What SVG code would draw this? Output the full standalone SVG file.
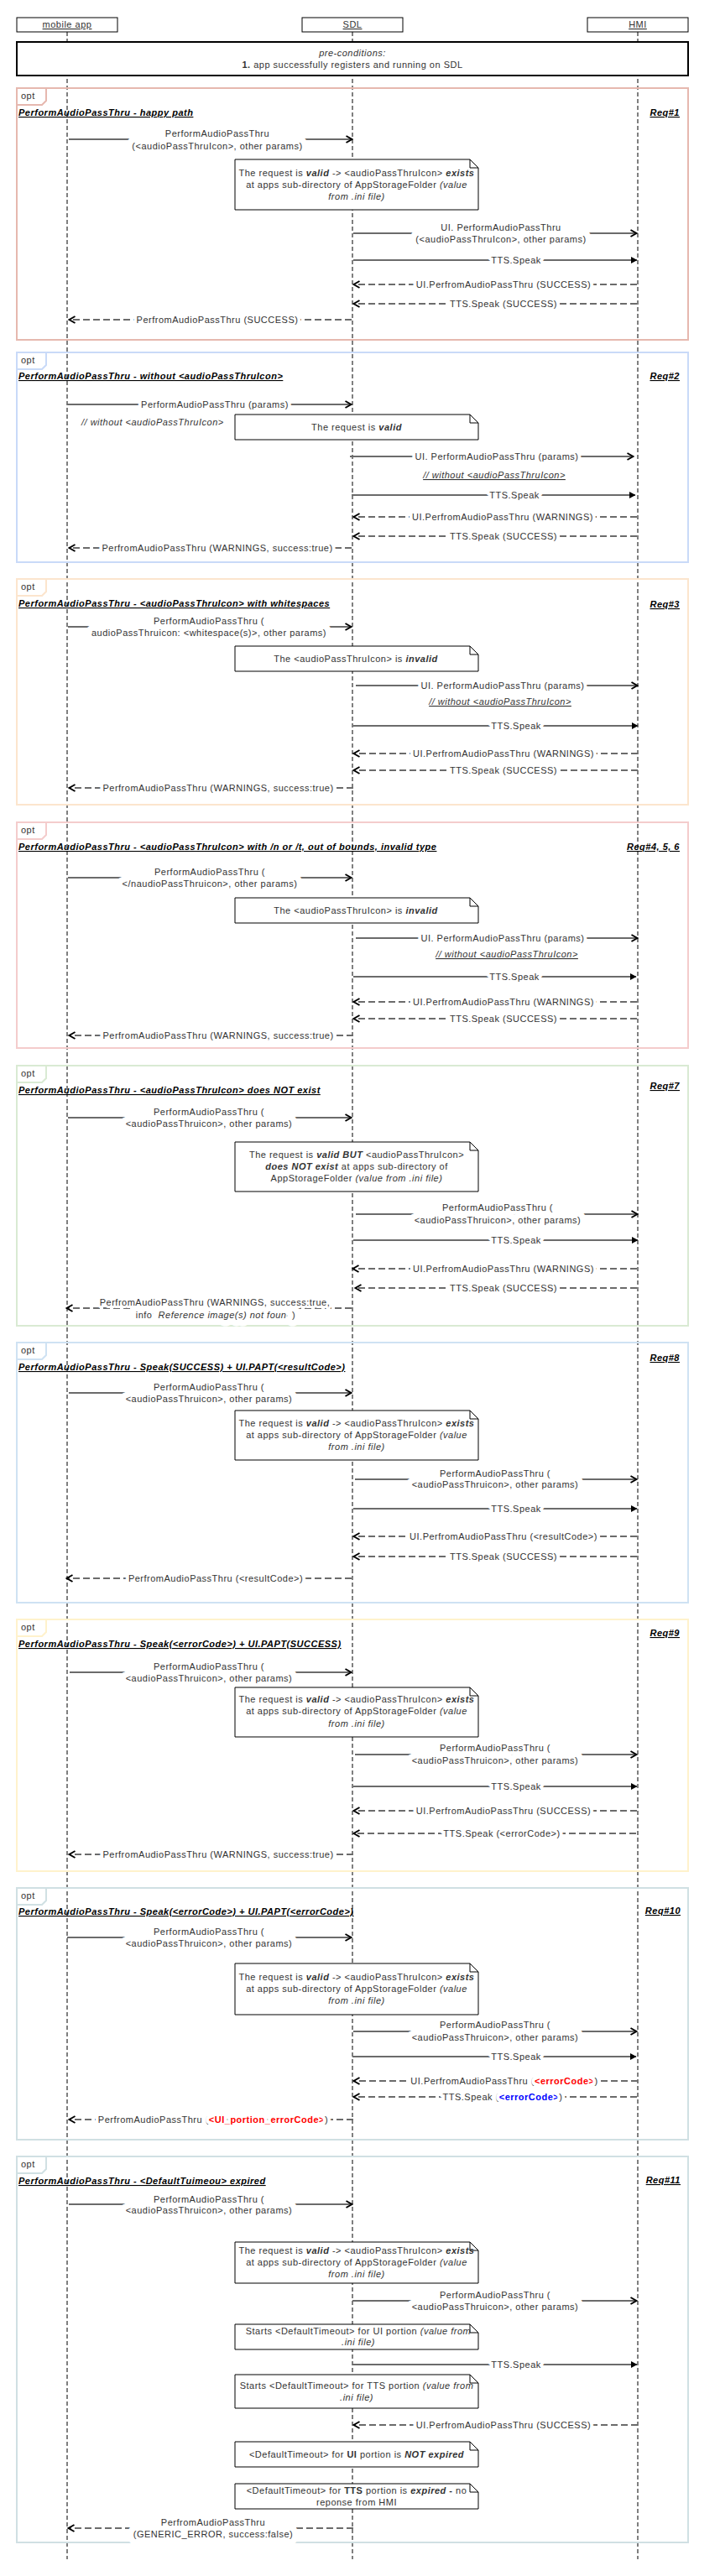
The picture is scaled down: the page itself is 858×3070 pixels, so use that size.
<svg xmlns="http://www.w3.org/2000/svg" width="858" height="3070" viewBox="0 0 858 3070">
<style>
.lf{stroke:#000;stroke-width:1;stroke-dasharray:5 3;fill:none}
.pbox{fill:#fff;stroke:#000;stroke-width:1}
.t{font-family:"Liberation Sans",Arial,sans-serif;font-size:11px;fill:#333;letter-spacing:0.5px}
.c{text-anchor:middle}
.e{text-anchor:end}
.h{stroke:#fff;stroke-width:8;stroke-linejoin:round;paint-order:stroke}
.h2{stroke-width:15}
.h3{stroke-width:6}
.sync{stroke:#6b6b6b;stroke-width:2;fill:none}
.ret{stroke:#6b6b6b;stroke-width:2;stroke-dasharray:8 4;fill:none}
.frame{fill:none;stroke-width:2}
.tab{fill:#fff;stroke-width:2}
.note{fill:#fff;stroke:#000;stroke-width:1}
.fold{fill:none;stroke:#000;stroke-width:1}
.ttl{font-weight:bold;font-style:italic;text-decoration:underline;fill:#000}
.u{text-decoration:underline}
.b{font-weight:bold}
.i{font-style:italic}
.bi{font-weight:bold;font-style:italic}
.red{fill:#ff0000;font-weight:bold}
.blue{fill:#0000ff;font-weight:bold}
</style>
<defs>
<marker id="open" viewBox="0 0 10 10" refX="9" refY="5" markerWidth="10" markerHeight="10" markerUnits="userSpaceOnUse" orient="auto"><path d="M1.5,1 L8.5,5 L1.5,9" fill="none" stroke="#000" stroke-width="2"/></marker>
<marker id="fill" viewBox="0 0 10 10" refX="9" refY="5" markerWidth="10" markerHeight="10" markerUnits="userSpaceOnUse" orient="auto"><path d="M2,1 L9.5,5 L2,9 Z" fill="#000"/></marker>
</defs>
<rect width="858" height="3070" fill="#fff"/>

<g id="lifelines">
<line class="lf" x1="80" y1="38" x2="80" y2="3050"/>
<line class="lf" x1="420" y1="38" x2="420" y2="3050"/>
<line class="lf" x1="760" y1="38" x2="760" y2="3050"/>
</g>

<g id="p-mobile"><rect class="pbox" x="20" y="21" width="120" height="17"/><text class="t c u" x="80" y="33">mobile app</text></g>
<g id="p-sdl"><rect class="pbox" x="360" y="21" width="120" height="17"/><text class="t c u" x="420" y="33">SDL</text></g>
<g id="p-hmi"><rect class="pbox" x="700" y="21" width="120" height="17"/><text class="t c u" x="760" y="33">HMI</text></g>

<g id="preconditions">
<rect x="20" y="50" width="800" height="40" fill="#fff" stroke="#000" stroke-width="2"/>
<text class="t c i" x="420" y="67">pre-conditions:</text>
<text class="t c" x="420" y="81"><tspan class="b">1.</tspan> app successfully registers and running on SDL</text>
</g>

<g id="frame1">
<rect class="frame" x="20" y="105" width="800" height="300" stroke="#e6b8af"/>
<path class="tab" d="M20,105 H55 V120 L50,125 H20 Z" stroke="#e6b8af"/>
<text class="t" x="25" y="118">opt</text>
<text class="t ttl" x="22" y="138">PerformAudioPassThru - happy path</text>
<text class="t ttl e" x="810" y="138">Req#1</text>
</g>
<g id="frame2">
<rect class="frame" x="20" y="420" width="800" height="250" stroke="#c9daf8"/>
<path class="tab" d="M20,420 H55 V435 L50,440 H20 Z" stroke="#c9daf8"/>
<text class="t" x="25" y="433">opt</text>
<text class="t ttl" x="22" y="452">PerformAudioPassThru - without &lt;audioPassThruIcon&gt;</text>
<text class="t ttl e" x="810" y="452">Req#2</text>
</g>
<g id="frame3">
<rect class="frame" x="20" y="690" width="800" height="269" stroke="#fce5cd"/>
<path class="tab" d="M20,690 H55 V705 L50,710 H20 Z" stroke="#fce5cd"/>
<text class="t" x="25" y="703">opt</text>
<text class="t ttl" x="22" y="723">PerformAudioPassThru - &lt;audioPassThruIcon&gt; with whitespaces</text>
<text class="t ttl e" x="810" y="724">Req#3</text>
</g>
<g id="frame4">
<rect class="frame" x="20" y="980" width="800" height="269" stroke="#f4cccc"/>
<path class="tab" d="M20,980 H55 V995 L50,1000 H20 Z" stroke="#f4cccc"/>
<text class="t" x="25" y="993">opt</text>
<text class="t ttl" x="22" y="1013">PerformAudioPassThru - &lt;audioPassThruIcon&gt; with /n or /t, out of bounds, invalid type</text>
<text class="t ttl e" x="810" y="1013">Req#4, 5, 6</text>
</g>
<g id="frame5">
<rect class="frame" x="20" y="1270" width="800" height="310" stroke="#d9ead3"/>
<path class="tab" d="M20,1270 H55 V1285 L50,1290 H20 Z" stroke="#d9ead3"/>
<text class="t" x="25" y="1283">opt</text>
<text class="t ttl" x="22" y="1303">PerformAudioPassThru - &lt;audioPassThruIcon&gt; does NOT exist</text>
<text class="t ttl e" x="810" y="1298">Req#7</text>
</g>
<g id="frame6">
<rect class="frame" x="20" y="1600" width="800" height="310" stroke="#cfe2f3"/>
<path class="tab" d="M20,1600 H55 V1615 L50,1620 H20 Z" stroke="#cfe2f3"/>
<text class="t" x="25" y="1613">opt</text>
<text class="t ttl" x="22" y="1633">PerformAudioPassThru - Speak(SUCCESS) + UI.PAPT(&lt;resultCode&gt;)</text>
<text class="t ttl e" x="810" y="1622">Req#8</text>
</g>
<g id="frame7">
<rect class="frame" x="20" y="1930" width="800" height="300" stroke="#fff2cc"/>
<path class="tab" d="M20,1930 H55 V1945 L50,1950 H20 Z" stroke="#fff2cc"/>
<text class="t" x="25" y="1943">opt</text>
<text class="t ttl" x="22" y="1963">PerformAudioPassThru - Speak(&lt;errorCode&gt;) + UI.PAPT(SUCCESS)</text>
<text class="t ttl e" x="810" y="1950">Req#9</text>
</g>
<g id="frame8">
<rect class="frame" x="20" y="2250" width="800" height="300" stroke="#d0e0e3"/>
<path class="tab" d="M20,2250 H55 V2265 L50,2270 H20 Z" stroke="#d0e0e3"/>
<text class="t" x="25" y="2263">opt</text>
<text class="t ttl" x="22" y="2282">PerformAudioPassThru - Speak(&lt;errorCode&gt;) + UI.PAPT(&lt;errorCode&gt;)</text>
<text class="t ttl e" x="811" y="2281">Req#10</text>
</g>
<g id="frame9">
<rect class="frame" x="20" y="2570" width="800" height="460" stroke="#d0e0e3"/>
<path class="tab" d="M20,2570 H55 V2585 L50,2590 H20 Z" stroke="#d0e0e3"/>
<text class="t" x="25" y="2583">opt</text>
<text class="t ttl" x="22" y="2603">PerformAudioPassThru - &lt;DefaultTuimeou&gt; expired</text>
<text class="t ttl e" x="811" y="2602">Req#11</text>
</g>

<g id="connectors">
<!-- frame 1 -->
<line class="sync" x1="82" y1="166" x2="420" y2="166" marker-end="url(#open)"/>
<line class="sync" x1="421" y1="278" x2="759" y2="278" marker-end="url(#open)"/>
<line class="sync" x1="421" y1="310" x2="759" y2="310" marker-end="url(#fill)"/>
<line class="ret" x1="759" y1="339" x2="421" y2="339" marker-end="url(#open)"/>
<line class="ret" x1="759" y1="362" x2="421" y2="362" marker-end="url(#open)"/>
<line class="ret" x1="419" y1="381" x2="82" y2="381" marker-end="url(#open)"/>
<!-- frame 2 -->
<line class="sync" x1="80" y1="482" x2="419" y2="482" marker-end="url(#open)"/>
<line class="sync" x1="417" y1="544" x2="755" y2="544" marker-end="url(#open)"/>
<line class="sync" x1="419" y1="590" x2="757" y2="590" marker-end="url(#fill)"/>
<line class="ret" x1="759" y1="616" x2="421" y2="616" marker-end="url(#open)"/>
<line class="ret" x1="759" y1="639" x2="421" y2="639" marker-end="url(#open)"/>
<line class="ret" x1="419" y1="653" x2="82" y2="653" marker-end="url(#open)"/>
<!-- frame 3 -->
<line class="sync" x1="81" y1="747" x2="419" y2="747" marker-end="url(#open)"/>
<line class="sync" x1="424" y1="817" x2="760" y2="817" marker-end="url(#open)"/>
<line class="sync" x1="421" y1="865" x2="760" y2="865" marker-end="url(#fill)"/>
<line class="ret" x1="760" y1="898" x2="421" y2="898" marker-end="url(#open)"/>
<line class="ret" x1="760" y1="918" x2="421" y2="918" marker-end="url(#open)"/>
<line class="ret" x1="421" y1="939" x2="82" y2="939" marker-end="url(#open)"/>
<!-- frame 4 -->
<line class="sync" x1="81" y1="1046" x2="419" y2="1046" marker-end="url(#open)"/>
<line class="sync" x1="424" y1="1118" x2="760" y2="1118" marker-end="url(#open)"/>
<line class="sync" x1="421" y1="1164" x2="758" y2="1164" marker-end="url(#fill)"/>
<line class="ret" x1="759" y1="1194" x2="421" y2="1194" marker-end="url(#open)"/>
<line class="ret" x1="759" y1="1214" x2="421" y2="1214" marker-end="url(#open)"/>
<line class="ret" x1="421" y1="1234" x2="82" y2="1234" marker-end="url(#open)"/>
<!-- frame 5 -->
<line class="sync" x1="81" y1="1332" x2="419" y2="1332" marker-end="url(#open)"/>
<line class="sync" x1="424" y1="1447" x2="760" y2="1447" marker-end="url(#open)"/>
<line class="sync" x1="421" y1="1478" x2="760" y2="1478" marker-end="url(#fill)"/>
<line class="ret" x1="759" y1="1512" x2="420" y2="1512" marker-end="url(#open)"/>
<line class="ret" x1="759" y1="1535" x2="423" y2="1535" marker-end="url(#open)"/>
<line class="ret" x1="419" y1="1559" x2="79" y2="1559" marker-end="url(#open)"/>
<!-- frame 6 -->
<line class="sync" x1="82" y1="1660" x2="419" y2="1660" marker-end="url(#open)"/>
<line class="sync" x1="423" y1="1763" x2="759" y2="1763" marker-end="url(#open)"/>
<line class="sync" x1="421" y1="1798" x2="759" y2="1798" marker-end="url(#fill)"/>
<line class="ret" x1="759" y1="1831" x2="421" y2="1831" marker-end="url(#open)"/>
<line class="ret" x1="759" y1="1855" x2="421" y2="1855" marker-end="url(#open)"/>
<line class="ret" x1="419" y1="1881" x2="79" y2="1881" marker-end="url(#open)"/>
<!-- frame 7 -->
<line class="sync" x1="83" y1="1993" x2="419" y2="1993" marker-end="url(#open)"/>
<line class="sync" x1="423" y1="2091" x2="759" y2="2091" marker-end="url(#open)"/>
<line class="sync" x1="421" y1="2129" x2="759" y2="2129" marker-end="url(#fill)"/>
<line class="ret" x1="759" y1="2158" x2="421" y2="2158" marker-end="url(#open)"/>
<line class="ret" x1="758" y1="2185" x2="421" y2="2185" marker-end="url(#open)"/>
<line class="ret" x1="421" y1="2210" x2="82" y2="2210" marker-end="url(#open)"/>
<!-- frame 8 -->
<line class="sync" x1="80" y1="2309" x2="419" y2="2309" marker-end="url(#open)"/>
<line class="sync" x1="421" y1="2421" x2="759" y2="2421" marker-end="url(#open)"/>
<line class="sync" x1="420" y1="2451" x2="758" y2="2451" marker-end="url(#fill)"/>
<line class="ret" x1="760" y1="2480" x2="421" y2="2480" marker-end="url(#open)"/>
<line class="ret" x1="759" y1="2499" x2="421" y2="2499" marker-end="url(#open)"/>
<line class="ret" x1="421" y1="2526" x2="82" y2="2526" marker-end="url(#open)"/>
<!-- frame 9 -->
<line class="sync" x1="82" y1="2627" x2="420" y2="2627" marker-end="url(#open)"/>
<line class="sync" x1="420" y1="2742" x2="759" y2="2742" marker-end="url(#open)"/>
<line class="sync" x1="420" y1="2818" x2="759" y2="2818" marker-end="url(#fill)"/>
<line class="ret" x1="760" y1="2890" x2="421" y2="2890" marker-end="url(#open)"/>
<line class="ret" x1="421" y1="3013" x2="81" y2="3013" marker-end="url(#open)"/>
</g>

<g id="labels">
<!-- frame 1 -->
<text class="t c h h2" x="259" y="178">(&lt;audioPassThruIcon&gt;, other params)</text>
<text class="t c h" x="259" y="163">PerformAudioPassThru</text>
<text class="t c h h2" x="597" y="289">(&lt;audioPassThruIcon&gt;, other params)</text>
<text class="t c h" x="597" y="275">UI. PerformAudioPassThru</text>
<text class="t c h" x="615" y="314">TTS.Speak</text>
<text class="t c h" x="600" y="343">UI.PerfromAudioPassThru (SUCCESS)</text>
<text class="t c h" x="600" y="366">TTS.Speak (SUCCESS)</text>
<text class="t c h" x="259" y="385">PerfromAudioPassThru (SUCCESS)</text>
<!-- frame 2 -->
<text class="t c h" x="256" y="486">PerformAudioPassThru (params)</text>
<text class="t i" x="97" y="507">// without &lt;audioPassThruIcon&gt;</text>
<text class="t c h" x="592" y="548">UI. PerformAudioPassThru (params)</text>
<text class="t c i u" x="589" y="570">// without &lt;audioPassThruIcon&gt;</text>
<text class="t c h" x="613" y="594">TTS.Speak</text>
<text class="t c h" x="599" y="620">UI.PerfromAudioPassThru (WARNINGS)</text>
<text class="t c h" x="600" y="643">TTS.Speak (SUCCESS)</text>
<text class="t c h" x="259" y="657">PerfromAudioPassThru (WARNINGS, success:true)</text>
<!-- frame 3 -->
<text class="t c h h2" x="249" y="758">audioPassThruicon: &lt;whitespace(s)&gt;, other params)</text>
<text class="t c h" x="249" y="744">PerformAudioPassThru (</text>
<text class="t c h" x="599" y="821">UI. PerformAudioPassThru (params)</text>
<text class="t c i u" x="596" y="840">// without &lt;audioPassThruIcon&gt;</text>
<text class="t c h" x="615" y="869">TTS.Speak</text>
<text class="t c h" x="600" y="902">UI.PerfromAudioPassThru (WARNINGS)</text>
<text class="t c h" x="600" y="922">TTS.Speak (SUCCESS)</text>
<text class="t c h" x="260" y="943">PerfromAudioPassThru (WARNINGS, success:true)</text>
<!-- frame 4 -->
<text class="t c h h2" x="250" y="1057">&lt;/naudioPassThruicon&gt;, other params)</text>
<text class="t c h" x="250" y="1043">PerformAudioPassThru (</text>
<text class="t c h" x="599" y="1122">UI. PerformAudioPassThru (params)</text>
<text class="t c i u" x="604" y="1141">// without &lt;audioPassThruIcon&gt;</text>
<text class="t c h" x="613" y="1168">TTS.Speak</text>
<text class="t c h" x="600" y="1198">UI.PerfromAudioPassThru (WARNINGS)</text>
<text class="t c h" x="600" y="1218">TTS.Speak (SUCCESS)</text>
<text class="t c h" x="260" y="1238">PerfromAudioPassThru (WARNINGS, success:true)</text>
<!-- frame 5 -->
<text class="t c h h2" x="249" y="1343">&lt;audioPassThruicon&gt;, other params)</text>
<text class="t c h" x="249" y="1329">PerformAudioPassThru (</text>
<text class="t c h h2" x="593" y="1458">&lt;audioPassThruicon&gt;, other params)</text>
<text class="t c h" x="593" y="1443">PerformAudioPassThru (</text>
<text class="t c h" x="615" y="1482">TTS.Speak</text>
<text class="t c h" x="600" y="1516">UI.PerfromAudioPassThru (WARNINGS)</text>
<text class="t c h" x="600" y="1539">TTS.Speak (SUCCESS)</text>
<text class="t c h h2" x="257" y="1571">info: <tspan class="i">Reference image(s) not found</tspan>)</text>
<text class="t c h h3" x="256" y="1556">PerfromAudioPassThru (WARNINGS, success:true,</text>
<!-- frame 6 -->
<text class="t c h h2" x="249" y="1671">&lt;audioPassThruicon&gt;, other params)</text>
<text class="t c h" x="249" y="1657">PerformAudioPassThru (</text>
<text class="t c h h2" x="590" y="1773">&lt;audioPassThruicon&gt;, other params)</text>
<text class="t c h" x="590" y="1760">PerformAudioPassThru (</text>
<text class="t c h" x="615" y="1802">TTS.Speak</text>
<text class="t c h" x="600" y="1835">UI.PerfromAudioPassThru (&lt;resultCode&gt;)</text>
<text class="t c h" x="600" y="1859">TTS.Speak (SUCCESS)</text>
<text class="t c h" x="257" y="1885">PerfromAudioPassThru (&lt;resultCode&gt;)</text>
<!-- frame 7 -->
<text class="t c h h2" x="249" y="2004">&lt;audioPassThruicon&gt;, other params)</text>
<text class="t c h" x="249" y="1990">PerformAudioPassThru (</text>
<text class="t c h h2" x="590" y="2102">&lt;audioPassThruicon&gt;, other params)</text>
<text class="t c h" x="590" y="2087">PerformAudioPassThru (</text>
<text class="t c h" x="615" y="2133">TTS.Speak</text>
<text class="t c h" x="600" y="2162">UI.PerfromAudioPassThru (SUCCESS)</text>
<text class="t c h" x="598" y="2189">TTS.Speak (&lt;errorCode&gt;)</text>
<text class="t c h" x="260" y="2214">PerfromAudioPassThru (WARNINGS, success:true)</text>
<!-- frame 8 -->
<text class="t c h h2" x="249" y="2320">&lt;audioPassThruicon&gt;, other params)</text>
<text class="t c h" x="249" y="2306">PerformAudioPassThru (</text>
<text class="t c h h2" x="590" y="2432">&lt;audioPassThruicon&gt;, other params)</text>
<text class="t c h" x="590" y="2417">PerformAudioPassThru (</text>
<text class="t c h" x="615" y="2455">TTS.Speak</text>
<text class="t c h" x="601" y="2484">UI.PerfromAudioPassThru (<tspan class="red">&lt;errorCode&gt;</tspan>)</text>
<text class="t c h" x="599" y="2503">TTS.Speak (<tspan class="blue">&lt;errorCode&gt;</tspan>)</text>
<text class="t c h" x="254" y="2530">PerfromAudioPassThru (<tspan class="red">&lt;UI_portion_errorCode&gt;</tspan>)</text>
<!-- frame 9 -->
<text class="t c h h2" x="249" y="2638">&lt;audioPassThruicon&gt;, other params)</text>
<text class="t c h" x="249" y="2625">PerformAudioPassThru (</text>
<text class="t c h h2" x="590" y="2753">&lt;audioPassThruicon&gt;, other params)</text>
<text class="t c h" x="590" y="2739">PerformAudioPassThru (</text>
<text class="t c h" x="615" y="2822">TTS.Speak</text>
<text class="t c h" x="600" y="2894">UI.PerfromAudioPassThru (SUCCESS)</text>
<text class="t c h h2" x="254" y="3024">(GENERIC_ERROR, success:false)</text>
<text class="t c h" x="254" y="3010">PerfromAudioPassThru</text>
</g>

<g id="note1">
<path class="note" d="M280,190 H560 L570,200 V250 H280 Z"/><path class="fold" d="M560,190 V200 H570"/>
<text class="t c" x="425" y="210">The request is <tspan class="bi">valid</tspan> -&gt; &lt;audioPassThruIcon&gt; <tspan class="bi">exists</tspan></text>
<text class="t c" x="425" y="224">at apps sub-directory of AppStorageFolder <tspan class="i">(value</tspan></text>
<text class="t c i" x="425" y="238">from .ini file)</text>
</g>
<g id="note2">
<path class="note" d="M280,494 H560 L570,504 V524 H280 Z"/><path class="fold" d="M560,494 V504 H570"/>
<text class="t c" x="425" y="513">The request is <tspan class="bi">valid</tspan></text>
</g>
<g id="note3">
<path class="note" d="M280,770 H560 L570,780 V800 H280 Z"/><path class="fold" d="M560,770 V780 H570"/>
<text class="t c" x="424" y="789">The &lt;audioPassThruIcon&gt; is  <tspan class="bi">invalid</tspan></text>
</g>
<g id="note4">
<path class="note" d="M280,1070 H560 L570,1080 V1100 H280 Z"/><path class="fold" d="M560,1070 V1080 H570"/>
<text class="t c" x="424" y="1089">The &lt;audioPassThruIcon&gt; is  <tspan class="bi">invalid</tspan></text>
</g>
<g id="note5">
<path class="note" d="M280,1361 H560 L570,1371 V1420 H280 Z"/><path class="fold" d="M560,1361 V1371 H570"/>
<text class="t c" x="425" y="1380">The request is <tspan class="bi">valid  BUT</tspan> &lt;audioPassThruIcon&gt;</text>
<text class="t c" x="425" y="1394"><tspan class="bi">does NOT exist</tspan> at apps sub-directory of</text>
<text class="t c" x="425" y="1408">AppStorageFolder <tspan class="i">(value from .ini file)</tspan></text>
</g>
<g id="note6">
<path class="note" d="M280,1681 H560 L570,1691 V1740 H280 Z"/><path class="fold" d="M560,1681 V1691 H570"/>
<text class="t c" x="425" y="1700">The request is <tspan class="bi">valid</tspan> -&gt; &lt;audioPassThruIcon&gt; <tspan class="bi">exists</tspan></text>
<text class="t c" x="425" y="1714">at apps sub-directory of AppStorageFolder <tspan class="i">(value</tspan></text>
<text class="t c i" x="425" y="1728">from .ini file)</text>
</g>
<g id="note7">
<path class="note" d="M280,2011 H560 L570,2021 V2070 H280 Z"/><path class="fold" d="M560,2011 V2021 H570"/>
<text class="t c" x="425" y="2029">The request is <tspan class="bi">valid</tspan> -&gt; &lt;audioPassThruIcon&gt; <tspan class="bi">exists</tspan></text>
<text class="t c" x="425" y="2043">at apps sub-directory of AppStorageFolder <tspan class="i">(value</tspan></text>
<text class="t c i" x="425" y="2058">from .ini file)</text>
</g>
<g id="note8">
<path class="note" d="M280,2340 H560 L570,2350 V2401 H280 Z"/><path class="fold" d="M560,2340 V2350 H570"/>
<text class="t c" x="425" y="2360">The request is <tspan class="bi">valid</tspan> -&gt; &lt;audioPassThruIcon&gt; <tspan class="bi">exists</tspan></text>
<text class="t c" x="425" y="2374">at apps sub-directory of AppStorageFolder <tspan class="i">(value</tspan></text>
<text class="t c i" x="425" y="2388">from .ini file)</text>
</g>
<g id="note9">
<path class="note" d="M280,2672 H560 L570,2682 V2721 H280 Z"/><path class="fold" d="M560,2672 V2682 H570"/>
<text class="t c" x="425" y="2686">The request is <tspan class="bi">valid</tspan> -&gt; &lt;audioPassThruIcon&gt; <tspan class="bi">exists</tspan></text>
<text class="t c" x="425" y="2700">at apps sub-directory of AppStorageFolder <tspan class="i">(value</tspan></text>
<text class="t c i" x="425" y="2714">from .ini file)</text>
</g>
<g id="note10">
<path class="note" d="M280,2770 H560 L570,2780 V2800 H280 Z"/><path class="fold" d="M560,2770 V2780 H570"/>
<text class="t c" x="427" y="2782">Starts &lt;DefaultTimeout&gt; for UI portion <tspan class="i">(value from</tspan></text>
<text class="t c i" x="427" y="2795">.ini file)</text>
</g>
<g id="note11">
<path class="note" d="M280,2830 H560 L570,2840 V2870 H280 Z"/><path class="fold" d="M560,2830 V2840 H570"/>
<text class="t c" x="425" y="2847">Starts &lt;DefaultTimeout&gt; for TTS portion <tspan class="i">(value from</tspan></text>
<text class="t c i" x="425" y="2861">.ini file)</text>
</g>
<g id="note12">
<path class="note" d="M280,2910 H560 L570,2920 V2940 H280 Z"/><path class="fold" d="M560,2910 V2920 H570"/>
<text class="t c" x="425" y="2929">&lt;DefaultTimeout&gt; for <tspan class="b">UI</tspan> portion is <tspan class="bi">NOT expired</tspan></text>
</g>
<g id="note13">
<path class="note" d="M280,2960 H560 L570,2970 V2990 H280 Z"/><path class="fold" d="M560,2960 V2970 H570"/>
<text class="t c" x="425" y="2972">&lt;DefaultTimeout&gt; for <tspan class="b">TTS</tspan> portion is <tspan class="bi">expired</tspan><tspan class="b"> -</tspan> no</text>
<text class="t c" x="425" y="2986">reponse from HMI</text>
</g>
</svg>
